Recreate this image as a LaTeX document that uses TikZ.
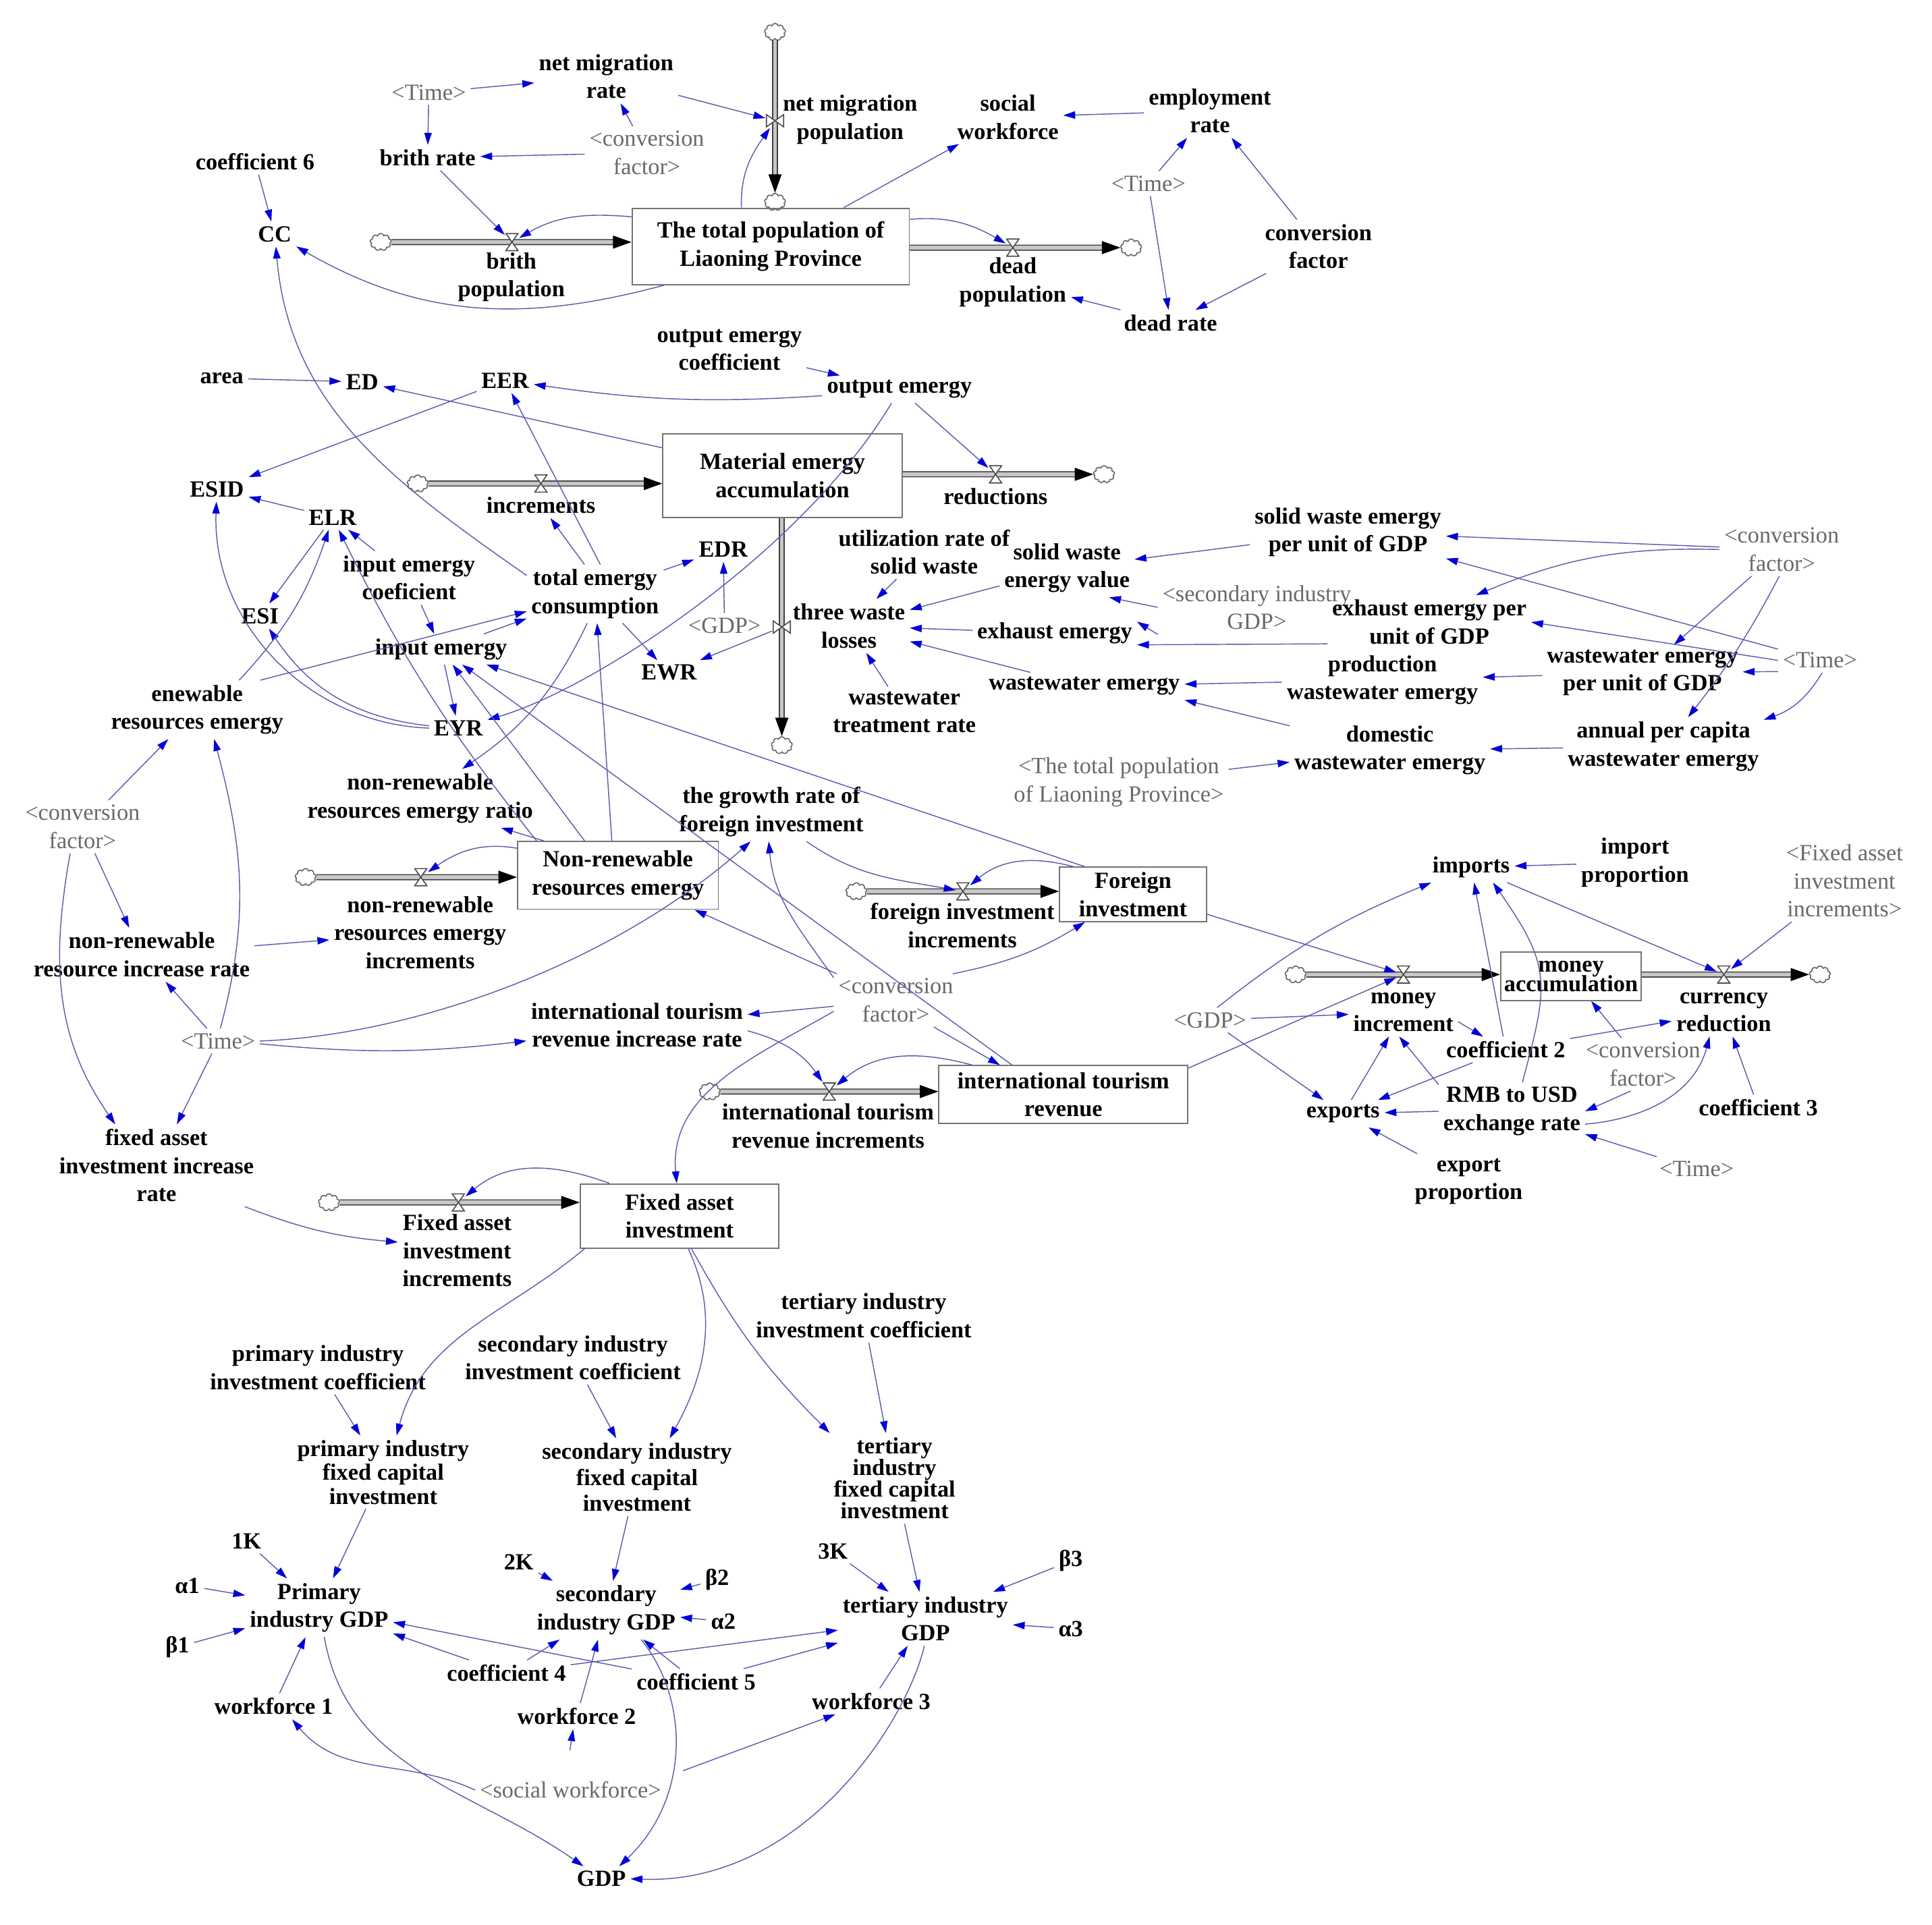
\documentclass[tikz,border=0pt]{standalone}
\usepackage{fontspec}
\setmainfont{Liberation Serif}
\usetikzlibrary{arrows.meta,shapes.symbols}
\definecolor{lnkc}{RGB}{92,92,172}
\definecolor{arrc}{RGB}{0,0,215}
\definecolor{shc}{RGB}{105,105,105}
\begin{document}
\begin{tikzpicture}[x=0.02cm,y=-0.02cm]
\tikzset{var/.style={font=\bfseries\fontsize{10.7}{13}\selectfont, align=center, inner sep=2pt},
shd/.style={font=\fontsize{10.7}{13}\selectfont, text=shc, align=center, inner sep=2pt},
stock/.style={draw=black!55, line width=0.6pt, align=center, inner sep=0pt, font=\bfseries\fontsize{10.7}{13}\selectfont},
cloudn/.style={cloud, cloud puffs=9, draw=black!60, fill=white, minimum width=0.34cm, minimum height=0.28cm, inner sep=0pt, line width=0.5pt},
valve/.style={minimum width=0.22cm, minimum height=0.3cm, inner sep=0pt, path picture={\draw[black!70, fill=white, line width=0.5pt] ([shift={(0.3pt,0.3pt)}]path picture bounding box.south west) -- ([shift={(-0.3pt,0.3pt)}]path picture bounding box.south east) -- ([shift={(0.3pt,-0.3pt)}]path picture bounding box.north west) -- ([shift={(-0.3pt,-0.3pt)}]path picture bounding box.north east) -- cycle;}},
valveh/.style={minimum width=0.3cm, minimum height=0.22cm, inner sep=0pt, path picture={\draw[black!70, fill=white, line width=0.5pt] ([shift={(0.3pt,0.3pt)}]path picture bounding box.south west) -- ([shift={(0.3pt,-0.3pt)}]path picture bounding box.north west) -- ([shift={(-0.3pt,0.3pt)}]path picture bounding box.south east) -- ([shift={(-0.3pt,-0.3pt)}]path picture bounding box.north east) -- cycle;}},
pipe/.style={draw=black!75, line width=0.5pt, double=black!22, double distance=1.8pt, -{Triangle[length=0.3cm,width=0.21cm,color=black]}},
lnk/.style={draw=lnkc, line width=0.45pt, -{Triangle[length=5.5pt,width=3.4pt,color=arrc]}}}
\useasboundingbox (0,0) rectangle (1568,1562);
\node[cloudn] (cTop) at (629,26) {};
\node[cloudn] (cPopIn) at (629,164) {};
\node[stock, minimum width=4.5cm, minimum height=1.24cm] (pop) at (625.5,200) {The total population of\\Liaoning Province};
\node[cloudn] (cBirth) at (309,196.5) {};
\node[cloudn] (cDead) at (918,201) {};
\node[var] (birthPop) at (415,225) {brith\\population};
\node[var] (deadPop) at (822,229) {dead\\population};
\node[var] (nmPop) at (690,97) {net migration\\population};
\node[var] (nmRate) at (492,62) {net migration\\rate};
\node[shd] (time1) at (348,75) {<Time>};
\node[var] (birthRate) at (347,128) {brith rate};
\node[shd] (conv1) at (525,124) {<conversion\\factor>};
\node[var] (coef6) at (207,131) {coefficient 6};
\node[var] (CC) at (223,190) {CC};
\node[var] (socWork) at (818,95) {social\\workforce};
\node[var] (empRate) at (982,90) {employment\\rate};
\node[shd] (time2) at (932,149) {<Time>};
\node[var] (convF) at (1070,200) {conversion\\factor};
\node[var] (deadRate) at (950,262) {dead rate};
\node[var] (oeCoef) at (592,284) {output emergy\\coefficient};
\node[var] (outEm) at (730,316) {output emergy};
\node[var] (area) at (180,307) {area};
\node[var] (ED) at (294,310) {ED};
\node[var] (EER) at (410,309) {EER};
\node[stock, minimum width=3.88cm, minimum height=1.36cm] (mat) at (635,386) {Material emergy\\accumulation};
\node[cloudn] (cInc) at (339,392.5) {};
\node[var] (incr) at (439,410) {increments};
\node[cloudn] (cRed) at (896,385) {};
\node[var] (red) at (808,403) {reductions};
\node[cloudn] (cDown) at (634.5,605) {};
\node[shd] (gdp1) at (588,508) {<GDP>};
\node[var] (ESID) at (176,397) {ESID};
\node[var] (ELR) at (270,420) {ELR};
\node[var] (iec) at (332,469) {input emergy\\coeficient};
\node[var] (tec) at (483,482) {total emergy\\consumption};
\node[var] (EDR) at (587,446) {EDR};
\node[var] (ESI) at (211,500) {ESI};
\node[var] (inEm) at (358,527) {input emergy};
\node[var] (EWR) at (543,546) {EWR};
\node[var] (renEm) at (160,576) {enewable\\resources emergy};
\node[var] (EYR) at (372,591) {EYR};
\node[var] (nrRatio) at (341,648) {non-renewable\\resources emergy ratio};
\node[shd] (conv2) at (67,671) {<conversion\\factor>};
\node[stock, minimum width=3.26cm, minimum height=1.1cm] (nre) at (501.5,710.5) {Non-renewable\\resources emergy};
\node[cloudn] (cNre) at (248,712) {};
\node[var] (nreInc) at (341,757) {non-renewable\\resources emergy\\increments};
\node[var] (nrRate) at (115,775) {non-renewable\\resource increase rate};
\node[shd] (time3) at (177,845) {<Time>};
\node[var] (faiRate) at (127,946) {fixed asset\\investment increase\\rate};
\node[var] (grFI) at (626,659) {the growth rate of\\foreign investment};
\node[stock, minimum width=2.38cm, minimum height=0.88cm] (fi) at (919.5,726) {Foreign\\investment};
\node[cloudn] (cFi) at (695,723.5) {};
\node[var] (fiInc) at (781,751) {foreign investment\\increments};
\node[shd] (conv3) at (727,812) {<conversion\\factor>};
\node[var] (itrRate) at (517,832) {international tourism\\revenue increase rate};
\node[stock, minimum width=4.04cm, minimum height=0.94cm] (itr) at (863,888.5) {international tourism\\revenue};
\node[cloudn] (cItr) at (576,886) {};
\node[var] (itrInc) at (672,914) {international tourism\\revenue increments};
\node[stock, minimum width=3.22cm, minimum height=1.04cm] (fai) at (551.5,987) {Fixed asset\\investment};
\node[cloudn] (cFai) at (267,976) {};
\node[var] (faiInc) at (371,1015) {Fixed asset\\investment\\increments};
\node[var] (utilSW) at (750,448) {utilization rate of\\solid waste};
\node[var] (swVal) at (866,461) {solid waste\\energy value};
\node[var] (swUnit) at (1094,432) {solid waste emergy\\per unit of GDP};
\node[shd] (conv4) at (1446,446) {<conversion\\factor>};
\node[var] (twl) at (689,508) {three waste\\losses};
\node[shd] (secGDP) at (1020,493) {<secondary industry\\GDP>};
\node[var] (exh) at (856,514) {exhaust emergy};
\node[var] (exhUnit) at (1160,505) {exhaust emergy per\\unit of GDP};
\node[shd] (time4) at (1477,536) {<Time>};
\node[var] (wwtr) at (734,578) {wastewater\\treatment rate};
\node[var] (wwEm) at (880,557) {wastewater emergy};
\node[var] (prodWW) at (1122,552) {production\\wastewater emergy};
\node[var] (wwUnit) at (1333,546) {wastewater emergy\\per unit of GDP};
\node[var] (domWW) at (1128,609) {domestic\\wastewater emergy};
\node[var] (apcWW) at (1350,606) {annual per capita\\wastewater emergy};
\node[shd] (popShd) at (908,635) {<The total population\\of Liaoning Province>};
\node[var] (imports) at (1194,704) {imports};
\node[var] (impProp) at (1327,700) {import\\proportion};
\node[shd] (faiShd) at (1497,715) {<Fixed asset\\investment\\increments>};
\node[stock, minimum width=2.28cm, minimum height=0.78cm] (money) at (1275,792.5) {money\\[-4pt]accumulation};
\node[cloudn] (cMon) at (1051.5,791) {};
\node[var] (monInc) at (1139,821.5) {money\\increment};
\node[cloudn] (cCur) at (1477,791) {};
\node[var] (curRed) at (1399,821.5) {currency\\reduction};
\node[shd] (gdp2) at (982,828) {<GDP>};
\node[var] (coef2) at (1222,852) {coefficient 2};
\node[shd] (conv5) at (1333.5,864) {<conversion\\factor>};
\node[var] (exports) at (1090,904) {exports};
\node[var] (rmb) at (1227,902) {RMB to USD\\exchange rate};
\node[var] (coef3) at (1427,899) {coefficient 3};
\node[var] (expProp) at (1192,959) {export\\proportion};
\node[shd] (time5) at (1377,949) {<Time>};
\node[var] (tiic) at (701,1068) {tertiary industry\\investment coefficient};
\node[var] (piic) at (258,1110) {primary industry\\investment coefficient};
\node[var] (siic) at (465,1102) {secondary industry\\investment coefficient};
\node[var] (pfci) at (311,1195) {primary industry\\[-2pt]fixed capital\\[-2pt]investment};
\node[var] (sfci) at (517,1199) {secondary industry\\[-1pt]fixed capital\\[-1pt]investment};
\node[var] (tfci) at (726,1200) {tertiary\\[-3pt]industry\\[-3pt]fixed capital\\[-3pt]investment};
\node[var] (k1) at (200,1251) {1K};
\node[var] (a1) at (152,1287) {α1};
\node[var] (pGDP) at (259,1305) {Primary\\industry GDP};
\node[var] (b1) at (144,1337) {β1};
\node[var] (k2) at (421,1268) {2K};
\node[var] (sGDP) at (492,1307) {secondary\\industry GDP};
\node[var] (b2) at (582,1282) {β2};
\node[var] (a2) at (587,1316) {α2};
\node[var] (k3) at (676,1259) {3K};
\node[var] (tGDP) at (751,1314) {tertiary industry\\GDP};
\node[var] (b3) at (869,1267) {β3};
\node[var] (a3) at (869,1322) {α3};
\node[var] (coef4) at (411,1358) {coefficient 4};
\node[var] (coef5) at (565,1365) {coefficient 5};
\node[var] (wf1) at (222,1385) {workforce 1};
\node[var] (wf2) at (468,1393) {workforce 2};
\node[var] (wf3) at (707,1381) {workforce 3};
\node[shd] (socShd) at (463,1453) {<social workforce>};
\node[var] (GDP) at (488,1525) {GDP};
\draw[pipe] (cTop) -- (cPopIn);
\draw[pipe] (cBirth) -- (cBirth -| pop.west);
\draw[pipe] (pop.east |- cDead) -- (cDead);
\draw[pipe] (cInc) -- (cInc -| mat.west);
\draw[pipe] (mat.east |- cRed) -- (cRed);
\draw[pipe] (mat.south -| cDown) -- (cDown);
\draw[pipe] (cNre) -- (cNre -| nre.west);
\draw[pipe] (cFi) -- (cFi -| fi.west);
\draw[pipe] (cItr) -- (cItr -| itr.west);
\draw[pipe] (cFai) -- (cFai -| fai.west);
\draw[pipe] (cMon) -- (cMon -| money.west);
\draw[pipe] (money.east |- cCur) -- (cCur);
\node[valveh] (vNM) at (629,98) {};
\node[valve] (vBirth) at (415.5,196.5) {};
\node[valve] (vDead) at (822,201) {};
\node[valve] (vInc) at (439,392.5) {};
\node[valve] (vRed) at (808,385) {};
\node[valveh] (vGDP) at (634.5,509) {};
\node[valve] (vNre) at (341.5,712) {};
\node[valve] (vFi) at (781.5,723.5) {};
\node[valve] (vItr) at (673,886) {};
\node[valve] (vFai) at (372,976) {};
\node[valve] (vMon) at (1139,791) {};
\node[valve] (vCur) at (1399,791) {};
\draw[lnk] (time1) -- (nmRate);
\draw[lnk] (time1) -- (birthRate);
\draw[lnk] (conv1) -- (nmRate);
\draw[lnk] (conv1) -- (birthRate);
\draw[lnk] (coef6) -- (CC);
\draw[lnk] (birthRate) -- (vBirth);
\draw[lnk] (pop.168) to[out=175,in=30] (vBirth);
\draw[lnk] (pop.200) to[out=195,in=-30] (CC);
\draw[lnk] (nmRate) -- (vNM);
\draw[lnk] (pop.127) to[out=92,in=-125] (vNM);
\draw[lnk] (pop.28) -- (socWork);
\draw[lnk] (pop.11) to[out=5,in=150] (vDead);
\draw[lnk] (empRate) -- (socWork);
\draw[lnk] (time2) -- (empRate);
\draw[lnk] (convF) -- (empRate);
\draw[lnk] (time2) -- (deadRate);
\draw[lnk] (convF) -- (deadRate);
\draw[lnk] (deadRate) -- (deadPop);
\draw[lnk] (area) -- (ED);
\draw[lnk] (mat.167) -- (ED);
\draw[lnk] (outEm) to[bend left=6] (EER);
\draw[lnk] (oeCoef) -- (outEm);
\draw[lnk] (outEm) -- (vRed);
\draw[lnk] (outEm.240) .. controls (650,450) and (480,560) .. (EYR);
\draw[lnk] (EER) -- (ESID);
\draw[lnk] (tec.110) -- (incr);
\draw[lnk] (tec.80) -- (EER);
\draw[lnk] (tec.165) to[out=145,in=-85] (CC);
\draw[lnk] (ELR) -- (ESID);
\draw[lnk] (iec) -- (ELR);
\draw[lnk] (iec) -- (inEm);
\draw[lnk] (ELR) -- (ESI);
\draw[lnk] (EYR) to[bend left=25] (ESI);
\draw[lnk] (EYR.west) to[out=178,in=-92] (ESID);
\draw[lnk] (renEm.35) to[bend right=12] (ELR);
\draw[lnk] (nre.157) to[bend left=6] (ELR);
\draw[lnk] (renEm.25) -- (tec);
\draw[lnk] (inEm) -- (tec);
\draw[lnk] (inEm) -- (EYR);
\draw[lnk] (tec) -- (EWR);
\draw[lnk] (tec) -- (EDR);
\draw[lnk] (tec.-105) to[bend left=15] (nrRatio.35);
\draw[lnk] (gdp1) -- (EDR);
\draw[lnk] (vGDP) -- (EWR);
\draw[lnk] (nre.100) -- (tec);
\draw[lnk] (nre.134) -- (inEm);
\draw[lnk] (itr.150) -- (inEm);
\draw[lnk] (fi.150) -- (inEm);
\draw[lnk] (nre.165) to[out=170,in=35] (vNre);
\draw[lnk] (nre.155) -- (nrRatio.-20);
\draw[lnk] (conv2) -- (renEm);
\draw[lnk] (conv2) -- (nrRate);
\draw[lnk] (conv2.-115) to[out=-100,in=125] (faiRate.135);
\draw[lnk] (nrRate) -- (nreInc);
\draw[lnk] (time3) -- (nrRate);
\draw[lnk] (time3) -- (faiRate);
\draw[lnk] (time3.80) to[out=75,in=-75] (renEm.-60);
\draw[lnk] (time3.east) .. controls (340,840) and (500,780) .. (grFI.-125);
\draw[lnk] (time3) to[bend right=6] (itrRate);
\draw[lnk] (grFI.-40) to[out=-35,in=170] (vFi);
\draw[lnk] (fi.155) to[out=165,in=40] (vFi);
\draw[lnk] (conv3.25) to[bend right=10] (fi.-150);
\draw[lnk] (fi.-15) -- (vMon);
\draw[lnk] (conv3) -- (nre);
\draw[lnk] (conv3.160) to[out=125,in=-85] (grFI.-95);
\draw[lnk] (conv3) -- (itrRate);
\draw[lnk] (itrRate.-3) to[out=-15,in=125] (vItr);
\draw[lnk] (itr.162) to[out=165,in=40] (vItr);
\draw[lnk] (conv3.-35) -- (itr.155);
\draw[lnk] (conv3.190) to[out=210,in=95] (fai.95);
\draw[lnk] (itr.12) -- (vMon);
\draw[lnk] (gdp2.60) to[bend left=8] (imports);
\draw[lnk] (faiRate.-25) to[bend right=8] (faiInc.172);
\draw[lnk] (fai.155) to[out=160,in=40] (vFai);
\draw[lnk] (fai.199) to[out=220,in=75] (pfci.70);
\draw[lnk] (fai.-75) .. controls (585,1070) and (570,1120) .. (sfci.50);
\draw[lnk] (fai.-70) to[bend right=8] (tfci.145);
\draw[lnk] (piic) -- (pfci);
\draw[lnk] (siic) -- (sfci);
\draw[lnk] (tiic) -- (tfci);
\draw[lnk] (pfci) -- (pGDP);
\draw[lnk] (sfci) -- (sGDP);
\draw[lnk] (tfci) -- (tGDP);
\draw[lnk] (k1) -- (pGDP);
\draw[lnk] (a1) -- (pGDP);
\draw[lnk] (b1) -- (pGDP);
\draw[lnk] (k2) -- (sGDP);
\draw[lnk] (b2) -- (sGDP);
\draw[lnk] (a2) -- (sGDP);
\draw[lnk] (k3) -- (tGDP);
\draw[lnk] (b3) -- (tGDP);
\draw[lnk] (a3) -- (tGDP);
\draw[lnk] (coef4) -- (pGDP);
\draw[lnk] (coef4) -- (sGDP);
\draw[lnk] (coef4) -- (tGDP);
\draw[lnk] (coef5) -- (pGDP);
\draw[lnk] (coef5) -- (sGDP);
\draw[lnk] (coef5) -- (tGDP);
\draw[lnk] (wf1) -- (pGDP);
\draw[lnk] (wf2) -- (sGDP);
\draw[lnk] (wf3) -- (tGDP);
\draw[lnk] (socShd.west) to[out=155,in=-50] (wf1.-35);
\draw[lnk, shorten <=0.44cm] (socShd.110) -- (wf2.-105);
\draw[lnk, shorten <=0.3cm] (socShd.north east) -- (wf3.-160);
\draw[lnk] (pGDP.-80) to[out=-80,in=145] (GDP);
\draw[lnk] (sGDP.-40) .. controls (560,1380) and (560,1460) .. (GDP.35);
\draw[lnk] (tGDP.-92) .. controls (735,1400) and (650,1530) .. (GDP.east);
\draw[lnk] (utilSW) -- (twl);
\draw[lnk] (swVal) -- (twl);
\draw[lnk] (exh) -- (twl);
\draw[lnk] (wwEm) -- (twl);
\draw[lnk] (wwtr) -- (twl);
\draw[lnk] (swUnit) -- (swVal);
\draw[lnk] (secGDP.west) -- (swVal.-35);
\draw[lnk] (secGDP.south west) -- (exh.8);
\draw[lnk] (exhUnit.192) -- (exh.-8);
\draw[lnk] (conv4) -- (swUnit);
\draw[lnk] (conv4.west) to[bend right=12] (exhUnit.30);
\draw[lnk] (conv4) -- (wwUnit);
\draw[lnk] (conv4.-95) to[bend left=5] (apcWW.50);
\draw[lnk] (time4.165) -- (swUnit.-15);
\draw[lnk] (time4.west) -- (exhUnit.east);
\draw[lnk] (time4.195) -- (wwUnit);
\draw[lnk] (time4.-80) to[bend left=20] (apcWW.15);
\draw[lnk] (prodWW) -- (wwEm);
\draw[lnk] (domWW) -- (wwEm.south east);
\draw[lnk] (wwUnit) -- (prodWW);
\draw[lnk] (apcWW) -- (domWW);
\draw[lnk] (popShd) -- (domWW);
\draw[lnk] (impProp) -- (imports);
\draw[lnk] (imports) -- (vCur);
\draw[lnk] (faiShd) -- (vCur);
\draw[lnk] (gdp2) -- (monInc);
\draw[lnk] (gdp2) -- (exports);
\draw[lnk] (monInc.-10) -- (coef2.150);
\draw[lnk] (coef2) -- (curRed);
\draw[lnk] (coef2) -- (exports);
\draw[lnk] (coef2) -- (imports);
\draw[lnk] (exports) -- (monInc);
\draw[lnk] (rmb.160) -- (monInc.-100);
\draw[lnk] (rmb.west) -- (exports);
\draw[lnk] (rmb.70) to[out=75,in=-55,looseness=1.3] (imports.-35);
\draw[lnk] (rmb.-10) to[out=5,in=-105] (curRed.-120);
\draw[lnk] (conv5) -- (money);
\draw[lnk] (conv5.-115) -- (rmb.0);
\draw[lnk] (coef3) -- (curRed);
\draw[lnk] (time5) -- (rmb);
\draw[lnk] (expProp) -- (exports);
\end{tikzpicture}
\end{document}
